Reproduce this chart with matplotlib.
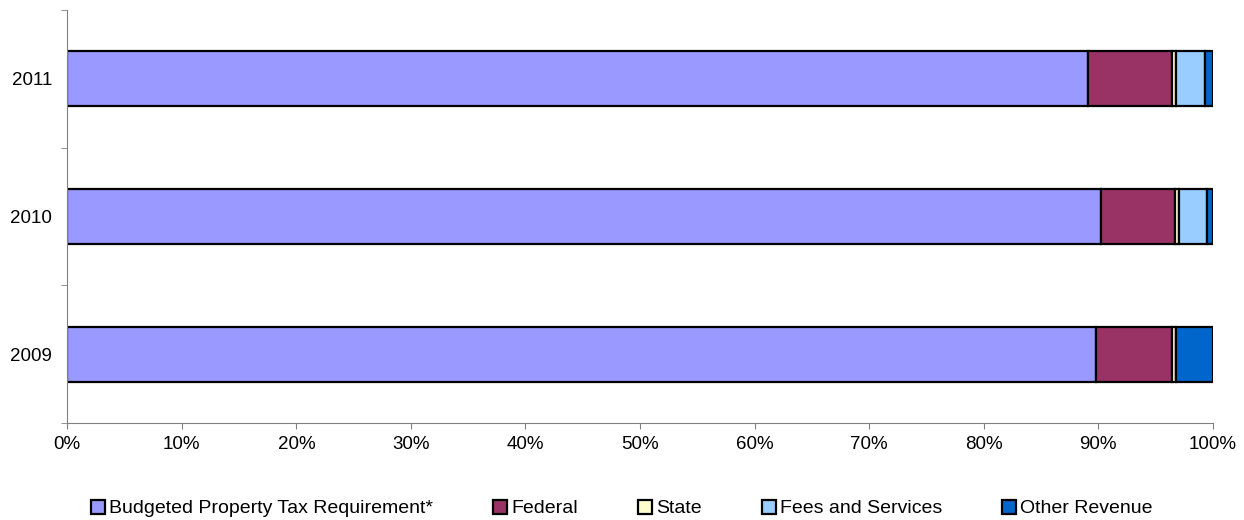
import matplotlib
matplotlib.use("Agg")
import matplotlib.pyplot as plt
import numpy as np

plt.rcParams['font.family'] = ['Liberation Sans', 'DejaVu Sans']

years = ["2009", "2010", "2011"]
series = ["Budgeted Property Tax Requirement*", "Federal", "State",
          "Fees and Services", "Other Revenue"]
# percent share per year (2009, 2010, 2011)
property_tax = [89.8, 90.2, 89.1]
federal = [6.6, 6.5, 7.3]
state = [0.4, 0.35, 0.35]
fees = [0.0, 2.4, 2.55]
other = [3.2, 0.55, 0.7]
colors = ["#9999FF", "#993366", "#FFFFCC", "#99CCFF", "#0066CC"]

fig = plt.figure(figsize=(12.44, 5.2), dpi=100)
ax = fig.add_axes([0.054, 0.1865, 0.921, 0.7945])

y = np.arange(len(years))
left = np.zeros(len(years))
for name, vals, c in zip(series, [property_tax, federal, state, fees, other], colors):
    ax.barh(y, vals, left=left, height=0.4, color=c, edgecolor="black",
            linewidth=1.6, label=name)
    left += np.array(vals)

ax.set_xlim(0, 100)
ax.set_ylim(-0.5, 2.5)
ax.set_xticks(np.arange(0, 101, 10))
ax.set_xticklabels([f"{v}%" for v in range(0, 101, 10)], fontsize=13.5)
ax.set_yticks(y)
ax.set_yticklabels(years, fontsize=13.5)
ax.tick_params(axis="y", length=0, pad=11)
ax.set_yticks([-0.5, 0.5, 1.5, 2.5], minor=True)
ax.tick_params(axis="y", which="minor", length=4.5, color="#808080")
ax.tick_params(axis="x", length=4.5, color="#808080", pad=5)
for s in ["top", "right"]:
    ax.spines[s].set_visible(False)
for s in ["left", "bottom"]:
    ax.spines[s].set_color("#808080")

fig.legend(loc="center", bbox_to_anchor=(0.5, 0.022), ncol=5, frameon=False,
           fontsize=14, handlelength=0.72, handleheight=0.72, handletextpad=0.2,
           columnspacing=3.1, borderpad=0, borderaxespad=0)

fig.savefig("out.png", dpi=100)
